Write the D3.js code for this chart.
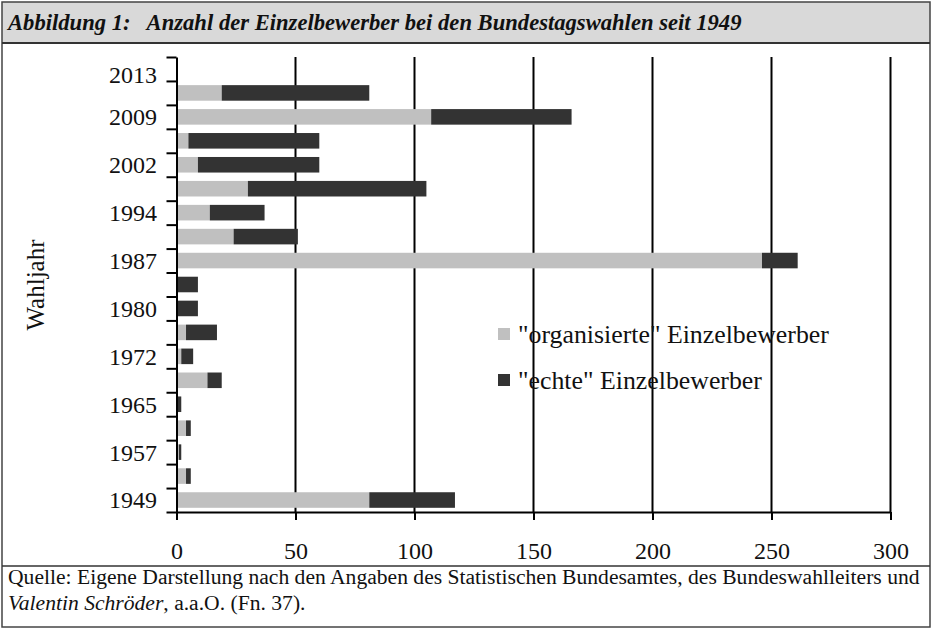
<!DOCTYPE html>
<html>
<head>
<meta charset="utf-8">
<script src="https://cdn.jsdelivr.net/npm/d3@7"></script>
<style>
  body { margin: 0; background: #fff; }
  svg { display: block; }
</style>
</head>
<body>
<div id="chart"></div>
<script>
// election years, bottom to top (one empty slot at the top carries the "2013" label)
const years = ["1949", "1953", "1957", "1961", "1965", "1969", "1972", "1976", "1980",
  "1983", "1987", "1990", "1994", "1998", "2002", "2005", "2009", "2013"];
const organisiert = [81, 4, 1, 4, 0, 13, 2, 4, 0, 0, 246, 24, 14, 30, 9, 5, 107, 19];
const echte = [36, 2, 1, 2, 2, 6, 5, 13, 9, 9, 15, 27, 23, 75, 51, 55, 59, 62];
// labels as printed, one per slot
const yTickLabels = ["1949", "", "1957", "", "1965", "", "1972", "", "1980", "", "1987", "",
  "1994", "", "2002", "", "2009", "", "2013"];
const xTicks = [0, 50, 100, 150, 200, 250, 300];
const seriesNames = ['"organisierte" Einzelbewerber', '"echte" Einzelbewerber'];
const colors = ["#c0c0c0", "#333333"];

const serif = '"Liberation Serif", "Times New Roman", "DejaVu Serif", serif';
const width = 932, height = 629;
const svg = d3.select("#chart").append("svg")
  .attr("width", width)
  .attr("height", height)
  .style("font-family", serif);

// frame + title bar
svg.append("rect").attr("x", 2).attr("y", 2).attr("width", 928).attr("height", 41)
  .attr("fill", "#d9d9d9");
svg.append("rect").attr("x", 2).attr("y", 2).attr("width", 928).attr("height", 625)
  .attr("fill", "none").attr("stroke", "#444").attr("stroke-width", 1.5);
svg.append("line").attr("x1", 2).attr("x2", 930).attr("y1", 43).attr("y2", 43)
  .attr("stroke", "#333").attr("stroke-width", 2);
svg.append("line").attr("x1", 2).attr("x2", 930).attr("y1", 566).attr("y2", 566)
  .attr("stroke", "#333").attr("stroke-width", 1.5);

// fit a text node to a target width by scaling its font size
function fitWidth(sel, target) {
  const fs = parseFloat(sel.style("font-size"));
  const w = sel.node().getComputedTextLength();
  sel.style("font-size", (fs * target / w) + "px");
}

const title = svg.append("text")
  .attr("x", 8).attr("y", 30)
  .style("font-family", serif)
  .style("font-size", "21px")
  .style("font-style", "italic")
  .style("font-weight", "bold")
  .attr("fill", "#111")
  .style("white-space", "pre")
  .text("Abbildung 1:   Anzahl der Einzelbewerber bei den Bundestagswahlen seit 1949");
fitWidth(title, 734);

const src1 = svg.append("text")
  .attr("x", 8).attr("y", 584)
  .style("font-family", serif)
  .style("font-size", "19px")
  .attr("fill", "#111")
  .text("Quelle: Eigene Darstellung nach den Angaben des Statistischen Bundesamtes, des Bundeswahlleiters und");
fitWidth(src1, 912);
const src2 = svg.append("text")
  .attr("x", 8).attr("y", 610)
  .style("font-family", serif)
  .style("font-size", src1.style("font-size"))
  .attr("fill", "#111");
src2.append("tspan").style("font-style", "italic").text("Valentin Schröder");
src2.append("tspan").text(", a.a.O. (Fn. 37).");

// scales
const x = d3.scaleLinear().domain([0, 300]).range([176.5, 890.5]);
const slots = d3.range(yTickLabels.length);
const y = d3.scaleBand().domain(slots).range([512, 57])
  .paddingInner(0.35).paddingOuter(0.175);
const yEdge = d3.scaleLinear().domain([0, slots.length]).range([512, 57]);

// vertical grid lines
svg.append("g").selectAll("line")
  .data(xTicks.slice(1))
  .join("line")
  .attr("x1", d => x(d)).attr("x2", d => x(d))
  .attr("y1", 57).attr("y2", 512)
  .attr("stroke", "#000").attr("stroke-width", 2);

// stacked bars
const rows = years.map((yr, i) => ({ i, org: organisiert[i], echt: echte[i] }));
const stack = d3.stack().keys(["org", "echt"])(rows);
svg.append("g").selectAll("g")
  .data(stack)
  .join("g")
  .attr("fill", (d, k) => colors[k])
  .selectAll("rect")
  .data(d => d)
  .join("rect")
  .attr("x", d => x(d[0]))
  .attr("width", d => x(d[1]) - x(d[0]))
  .attr("y", d => y(d.data.i))
  .attr("height", y.bandwidth());

// x axis
const xAxis = svg.append("g")
  .attr("transform", "translate(0,512)")
  .call(d3.axisBottom(x).tickValues(xTicks).tickSize(8).tickSizeOuter(0).tickPadding(22));
xAxis.select(".domain").attr("stroke", "#000").attr("stroke-width", 2);
xAxis.selectAll(".tick line").attr("stroke", "#000").attr("stroke-width", 2);
xAxis.selectAll("text")
  .style("font-family", serif)
  .style("font-size", "24px")
  .attr("fill", "#111");

// y axis (ticks between categories)
const yAxis = svg.append("g")
  .attr("transform", "translate(176.5,0)")
  .call(d3.axisLeft(yEdge).tickValues(d3.range(slots.length + 1))
    .tickSize(10).tickSizeOuter(0).tickFormat(""));
yAxis.select(".domain").attr("stroke", "#000").attr("stroke-width", 2);
yAxis.selectAll(".tick line").attr("stroke", "#000").attr("stroke-width", 2);

svg.append("g").selectAll("text")
  .data(slots.filter(i => yTickLabels[i] !== ""))
  .join("text")
  .attr("x", 157)
  .attr("y", i => y(i) + y.bandwidth() / 2)
  .attr("dy", i => i === slots.length - 1 ? "0.6em" : "0.35em")
  .attr("text-anchor", "end")
  .style("font-family", serif)
  .style("font-size", "24px")
  .attr("fill", "#111")
  .text(i => yTickLabels[i]);

// axis title
svg.append("text")
  .attr("transform", "translate(35,285) rotate(-90)")
  .attr("text-anchor", "middle")
  .attr("dy", "0.35em")
  .style("font-family", serif)
  .style("font-size", "25px")
  .attr("fill", "#111")
  .text("Wahljahr");

// legend
const legend = svg.append("g").attr("transform", "translate(498,334)")
  .selectAll("g")
  .data(seriesNames)
  .join("g")
  .attr("transform", (d, k) => `translate(0,${k * 46})`);
legend.append("rect")
  .attr("x", 0).attr("y", -6).attr("width", 12).attr("height", 12)
  .attr("fill", (d, k) => colors[k]);
const legendText = legend.append("text")
  .attr("x", 20).attr("dy", "0.35em")
  .style("font-family", serif)
  .style("font-size", "23px")
  .attr("fill", "#111")
  .text(d => d);
// scale both legend labels to the width of the first one in the picture
const lfs = 23 * 311 / legendText.nodes()[0].getComputedTextLength();
legendText.style("font-size", lfs + "px");
</script>
</body>
</html>
